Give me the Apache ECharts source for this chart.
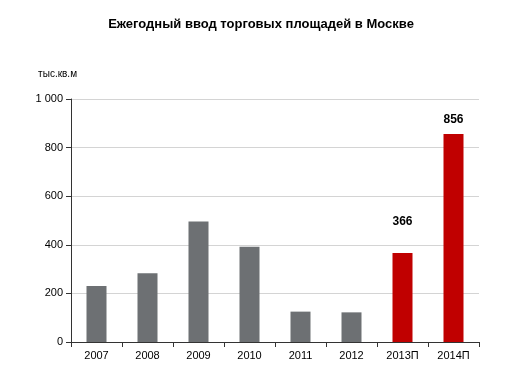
<!DOCTYPE html>
<html>
<head>
    <meta charset="utf-8">
    <title>Ежегодный ввод торговых площадей в Москве</title>
    <script src="https://cdn.jsdelivr.net/npm/echarts@6/dist/echarts.min.js"></script>
    <style>
        body { margin: 0; background: #fff; }
    </style>
</head>
<body>
    <div id="main" style="width: 530px;height:378px;"></div>

    <script type="text/javascript">
        // данные
        var years = ['2007', '2008', '2009', '2010', '2011', '2012', '2013П', '2014П']
        var volumes = [230, 283, 496, 392, 125, 122, 366, 856]
        // прогнозные годы выделены красным
        var forecast = [false, false, false, false, false, false, true, true]
        var yTicks = [0, 200, 400, 600, 800, 1000]

        var grey = '#6d7073'
        var red = '#c00000'

        var drawChart = function () {
            var myChart = echarts.init(document.getElementById('main'));

            var seriesData = volumes.map(function (v, i) {
                var item = {
                    value: v,
                    itemStyle: { color: forecast[i] ? red : grey }
                }
                if (forecast[i]) {
                    item.label = {
                        show: true,
                        position: 'top',
                        distance: i === 6 ? 25 : 8,
                        fontFamily: 'Liberation Sans',
                        fontWeight: 'bold',
                        fontSize: 12,
                        color: '#000'
                    }
                }
                return item
            })

            var option = {
                animation: false,
                title: {
                    left: 256,
                    textAlign: 'center',
                    top: 13,
                    text: 'Ежегодный ввод торговых площадей в Москве',
                    textStyle: {
                        fontFamily: 'Liberation Sans',
                        fontSize: 13,
                        fontWeight: 'bold',
                        color: '#000'
                    }
                },
                grid: {
                    left: 71,
                    right: 51,
                    top: 99,
                    bottom: 36
                },
                xAxis: {
                    type: 'category',
                    data: years,
                    axisLine: { lineStyle: { color: '#333', width: 1 } },
                    axisTick: { show: true, length: 5, lineStyle: { color: '#333' } },
                    axisLabel: {
                        fontFamily: 'Liberation Sans',
                        fontSize: 11,
                        color: '#000',
                        margin: 8
                    }
                },
                yAxis: {
                    type: 'value',
                    min: yTicks[0],
                    max: yTicks[yTicks.length - 1],
                    interval: 200,
                    name: 'тыс.кв.м',
                    nameLocation: 'end',
                    nameGap: 20,
                    nameTextStyle: {
                        fontFamily: 'Liberation Sans',
                        fontSize: 10,
                        color: '#000',
                        align: 'right',
                        padding: [0, -6, 0, 0]
                    },
                    axisLine: { show: true, lineStyle: { color: '#333', width: 1 } },
                    axisTick: { show: true, length: 5, lineStyle: { color: '#333' } },
                    axisLabel: {
                        fontFamily: 'Liberation Sans',
                        fontSize: 11,
                        color: '#000',
                        margin: 8,
                        formatter: function (v) {
                            return v >= 1000 ? '1 000' : String(v)
                        }
                    },
                    splitLine: { lineStyle: { color: '#d4d4d4', width: 1 } }
                },
                series: [
                    {
                        name: 'Ввод',
                        type: 'bar',
                        barWidth: 20,
                        data: seriesData
                    }
                ]
            };
            myChart.setOption(option);
        }

        drawChart()
    </script>
</body>
</html>
